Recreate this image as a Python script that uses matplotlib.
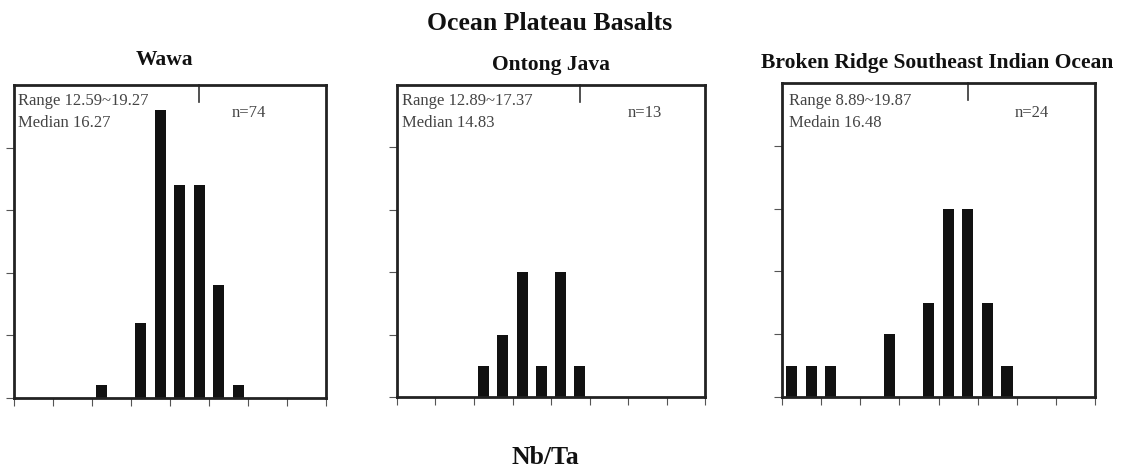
import matplotlib
matplotlib.use("Agg")
import matplotlib.pyplot as plt

plt.rcParams['font.family'] = ['Liberation Serif', 'DejaVu Serif']

# ---- data ----
panel_titles = ["Wawa", "Ontong Java", "Broken Ridge Southeast Indian Ocean"]
range_texts = ["Range 12.59~19.27", "Range 12.89~17.37", "Range 8.89~19.87"]
median_texts = ["Median 16.27", "Median 14.83", "Medain 16.48"]
n_texts = ["n=74", "n=13", "n=24"]

wawa_bins = [12, 14, 15, 16, 17, 18, 19]
wawa_counts = [1, 6, 23, 17, 17, 9, 1]
ontong_bins = [12, 13, 14, 15, 16, 17]
ontong_counts = [1, 2, 4, 1, 4, 1]
broken_bins = [8, 9, 10, 13, 15, 16, 17, 18, 19]
broken_counts = [1, 1, 1, 2, 3, 6, 6, 3, 1]

ymax_list = [25, 10, 10]
ystep_list = [5, 2, 2]
x_min, x_max, x_step = 8, 24, 2
ref_value = 17.5

suptitle = "Ocean Plateau Basalts"
xlabel = "Nb/Ta"

# ---- layout ----
W, H = 1121, 467
fig = plt.figure(figsize=(W / 100, H / 100), dpi=100)

boxes = [(14, 326, 85, 398), (397, 705, 85, 397), (782, 1095, 83, 397)]
data = [(wawa_bins, wawa_counts), (ontong_bins, ontong_counts), (broken_bins, broken_counts)]
title_pos = [(165, 60), (551, 65), (937, 63)]
n_pos = [249, 645, 1032]
text_x = [18, 402, 789]

for i, (l, r, t, b) in enumerate(boxes):
    ax = fig.add_axes([l / W, 1 - b / H, (r - l) / W, (b - t) / H])
    bins, counts = data[i]
    centers = [v + 0.5 for v in bins]
    ax.bar(centers, counts, width=0.57, color="#111111", edgecolor="none")
    ax.set_xlim(x_min, x_max)
    ax.set_ylim(0, ymax_list[i])
    ax.set_xticks(range(x_min, x_max + 1, x_step))
    ax.set_yticks(range(0, ymax_list[i], ystep_list[i]))
    ax.set_xticklabels([])
    ax.set_yticklabels([])
    ax.tick_params(direction="out", length=6, width=0.8, color="#555555")
    for s in ax.spines.values():
        s.set_linewidth(2.0)
        s.set_color("#222222")
    # reference tick at top
    ax.plot([ref_value, ref_value], [ymax_list[i], ymax_list[i] * (1 - 0.055)],
            color="#333333", lw=1.2, clip_on=False)
    fig.text(text_x[i] / W, 1 - 101 / H, range_texts[i], ha="left", va="center",
             fontsize=12, color="#444444")
    fig.text(text_x[i] / W, 1 - 123 / H, median_texts[i], ha="left", va="center",
             fontsize=12, color="#444444")
    fig.text(n_pos[i] / W, 1 - 113 / H, n_texts[i], ha="center", va="center",
             fontsize=12, color="#444444")
    fig.text(title_pos[i][0] / W, 1 - title_pos[i][1] / H, panel_titles[i],
             ha="center", va="center", fontsize=15.5, fontweight="bold", color="#111111")

fig.text(550 / W, 1 - 24 / H, suptitle, ha="center", va="center",
         fontsize=18.5, fontweight="bold", color="#111111")
fig.text(545 / W, 1 - 457 / H, xlabel, ha="center", va="center",
         fontsize=18.5, fontweight="bold", color="#111111")

fig.savefig("out.png", dpi=100)
